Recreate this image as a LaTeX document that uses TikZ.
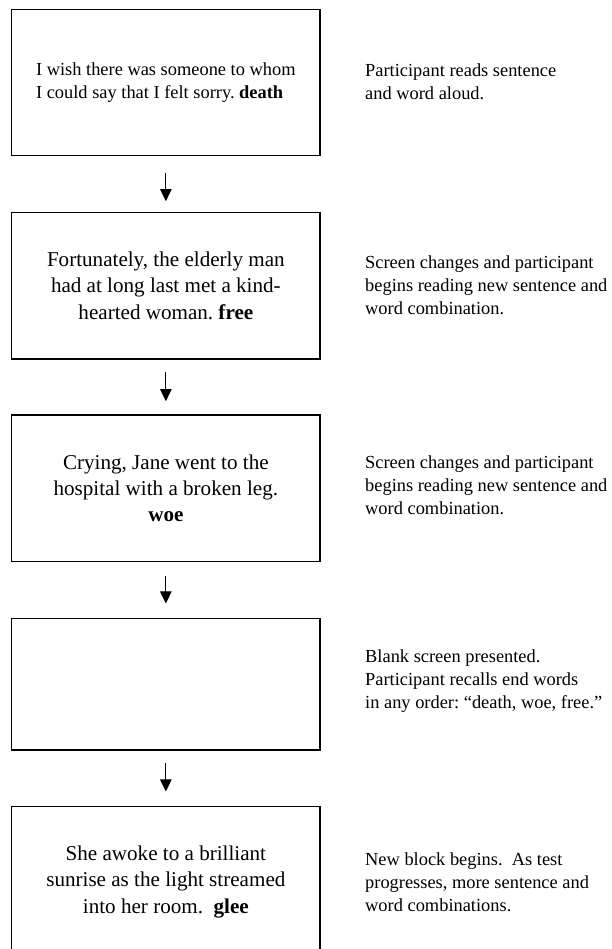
\documentclass[tikz,border=0pt]{standalone}
\usepackage{fontspec}
\setmainfont{Liberation Serif}
\usetikzlibrary{arrows.meta}
\frenchspacing
\begin{document}
\begin{tikzpicture}[x=1pt,y=-1pt,
  boxstyle/.style={draw=black, line width=1.1pt, minimum width=308.3pt, inner sep=0pt, align=center, font=\fontsize{21.1}{26.3}\selectfont},
  smalltext/.style={font=\fontsize{18.4}{23.3}\selectfont},
  note/.style={anchor=base west, inner sep=0pt, align=left, smalltext},
  arr/.style={line width=0.9pt, -{Triangle[width=11.5pt,length=12pt]}}
]
\useasboundingbox (0,0) rectangle (611,949);
\clip (0,0) rectangle (611,949);

\node[boxstyle, minimum height=146.2pt, smalltext, align=left] (b1) at (165.85,82.6)
  {I wish there was someone to whom\\I could say that I felt sorry. \textbf{death}};
\node[boxstyle, minimum height=146.7pt] (b2) at (165.85,285.65)
  {Fortunately, the elderly man\\had at long last met a kind-\\hearted woman. \textbf{free}};
\node[boxstyle, minimum height=146.7pt] (b3) at (165.85,488.35)
  {Crying, Jane went to the\\hospital with a broken leg.\\\textbf{woe}};
\node[boxstyle, minimum height=131.7pt] (b4) at (165.85,684.15) {};
\node[boxstyle, minimum height=150pt] (b5) at (165.85,881.7)
  {She awoke to a brilliant\\sunrise as the light streamed\\into her room.\ \ \textbf{glee}};

\draw[arr, shorten <=16.3pt, shorten >=10.6pt] (b1.south) -- (b2.north);
\draw[arr, shorten <=12.7pt, shorten >=13.3pt] (b2.south) -- (b3.north);
\draw[arr, shorten <=13.3pt, shorten >=14.3pt] (b3.south) -- (b4.north);
\draw[arr, shorten <=12.7pt, shorten >=14.7pt] (b4.south) -- (b5.north);

% note nodes: base anchor sits on the last line's baseline
\node[note] (n1) at (365,100) {Participant reads sentence\\and word aloud.};
\node[note] (n2) at (365,314.6) {Screen changes and participant\\begins reading new sentence and\\word combination.};
\node[note] (n3) at (365,514.6) {Screen changes and participant\\begins reading new sentence and\\word combination.};
\node[note] (n4) at (365,708.6) {Blank screen presented.\\Participant recalls end words\\in any order: “death, woe, free.”};
\node[note] (n5) at (365,911.6) {New block begins.\ \ As test\\progresses, more sentence and\\word combinations.};
\end{tikzpicture}
\end{document}
